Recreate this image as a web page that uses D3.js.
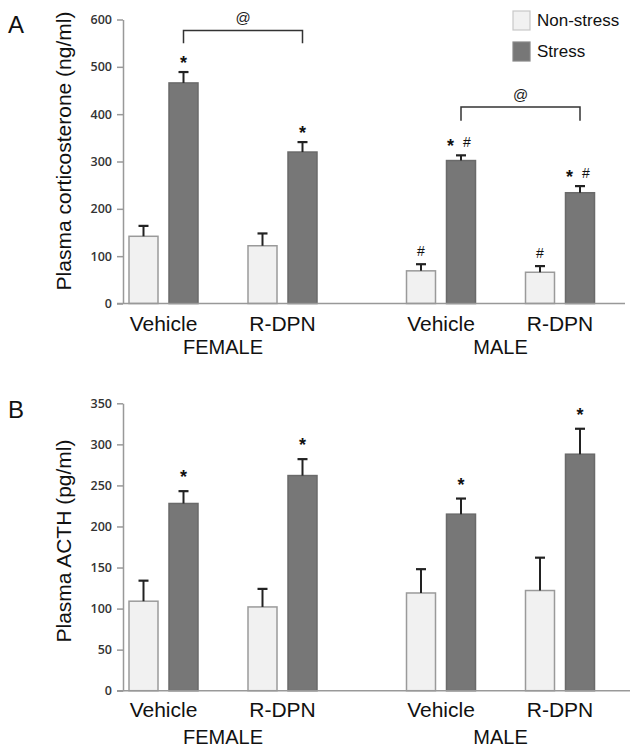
<!DOCTYPE html>
<html><head><meta charset="utf-8">
<script src="https://cdnjs.cloudflare.com/ajax/libs/d3/7.8.5/d3.min.js"></script>
<style>
body{margin:0;background:#fff;}
svg{display:block;}
.tick text{font-family:"Open Sans",sans-serif;font-weight:600;font-size:12.5px;fill:#333;}
</style></head>
<body><svg id="c" width="636" height="750"></svg>
<script>
const sexes = ["FEMALE", "MALE"];
const treatments = ["Vehicle", "R-DPN"];
const series = ["Non-stress", "Stress"];

// Panel A: plasma corticosterone (ng/ml), order FV, FR, MV, MR
const corticoNonStress = [142, 122, 69, 66];
const corticoNonStressSem = [22, 26, 14, 13];
const corticoStress = [466, 320, 302, 234];
const corticoStressSem = [23, 21, 11, 14];
const corticoNonStressMarks = ["", "", "#", "#"];
const corticoStressMarks = ["*", "*", "* #", "* #"];
const corticoTicks = [0, 100, 200, 300, 400, 500, 600];

// Panel B: plasma ACTH (pg/ml)
const acthNonStress = [109, 102, 119, 122];
const acthNonStressSem = [25, 22, 29, 40];
const acthStress = [228, 262, 215, 288];
const acthStressSem = [15, 20, 19, 31];
const acthNonStressMarks = ["", "", "", ""];
const acthStressMarks = ["*", "*", "*", "*"];
const acthTicks = [0, 50, 100, 150, 200, 250, 300, 350];

const colors = {"Non-stress": "#f1f1f1", "Stress": "#777777"};
const strokes = {"Non-stress": "#9a9a9a", "Stress": "#6a6a6a"};

const svg = d3.select("#c");
const axisX = 123;
const x0 = d3.scalePoint().domain(sexes).range([223, 500.5]);
const x1 = d3.scalePoint().domain(treatments).range([-59.5, 59.5]);
const x2 = d3.scaleBand().domain(series).range([-34.5, 34.5]).paddingInner(0.275);

function groups() {
  const g = [];
  sexes.forEach(s => treatments.forEach(t => g.push({sex: s, trt: t})));
  return g;
}
function cx(d, ser) { return x0(d.sex) + x1(d.trt) + x2(ser) + x2.bandwidth() / 2; }

function panel(opt) {
  const y = d3.scaleLinear().domain([0, opt.max]).range([opt.y0, opt.y1]);
  const g = svg.append("g");
  const gr = groups();
  const seriesData = [
    {name: "Non-stress", v: opt.ns, e: opt.nsSem, m: opt.nsMarks},
    {name: "Stress", v: opt.st, e: opt.stSem, m: opt.stMarks}
  ];
  seriesData.forEach(sd => {
    gr.forEach((d, i) => {
      const xl = x0(d.sex) + x1(d.trt) + x2(sd.name);
      g.append("rect").attr("x", xl).attr("y", y(sd.v[i]))
        .attr("width", x2.bandwidth()).attr("height", y(0) - y(sd.v[i]))
        .attr("fill", colors[sd.name]).attr("stroke", strokes[sd.name]).attr("stroke-width", 1.5);
      const c = cx(d, sd.name);
      const top = y(sd.v[i] + sd.e[i]);
      g.append("line").attr("x1", c).attr("x2", c).attr("y1", y(sd.v[i])).attr("y2", top)
        .attr("stroke", "#222").attr("stroke-width", 2);
      g.append("line").attr("x1", c - 5).attr("x2", c + 5).attr("y1", top).attr("y2", top)
        .attr("stroke", "#222").attr("stroke-width", 2.2);
      const mk = sd.m[i];
      if (mk) {
        const parts = mk.split(" ");
        parts.forEach(p => {
          let dx = 0;
          if (parts.length > 1) dx = p === "*" ? -10.5 : 6;
          if (p === "*") {
            g.append("text").attr("x", c + dx).attr("y", top - opt.starGap)
              .attr("text-anchor", "middle").attr("font-family", "Liberation Sans, Arial, sans-serif")
              .attr("font-weight", "bold").attr("font-size", 18).attr("fill", "#111").text("*");
          } else {
            g.append("text").attr("x", c + dx).attr("y", top - opt.hashGap)
              .attr("text-anchor", "middle").attr("font-family", "Liberation Sans, Arial, sans-serif")
              .attr("font-size", 14).attr("fill", "#111").text("#");
          }
        });
      }
    });
  });
  const ax = g.append("g").attr("transform", `translate(${axisX},0)`)
    .call(d3.axisLeft(y).tickValues(opt.ticks).tickSize(6).tickSizeOuter(0).tickPadding(5));
  ax.select(".domain").attr("stroke", "#999").attr("stroke-width", 1.5);
  ax.selectAll(".tick line").attr("stroke", "#999").attr("stroke-width", 1.5);
  g.append("line").attr("x1", axisX - 6).attr("x2", opt.xEnd).attr("y1", y(0)).attr("y2", y(0))
    .attr("stroke", "#999").attr("stroke-width", 1.5);
  gr.forEach(d => {
    g.append("text").attr("x", x0(d.sex) + x1(d.trt)).attr("y", opt.catY)
      .attr("text-anchor", "middle").attr("font-family", "Liberation Sans, Arial, sans-serif")
      .attr("font-size", 21).attr("fill", "#111").text(d.trt);
  });
  sexes.forEach(s => {
    g.append("text").attr("x", x0(s)).attr("y", opt.sexY)
      .attr("text-anchor", "middle").attr("font-family", "Liberation Sans, Arial, sans-serif")
      .attr("font-size", 20).attr("fill", "#111").text(s);
  });
  g.append("text").attr("transform", `translate(71,${opt.labY}) rotate(-90)`)
    .attr("text-anchor", "middle").attr("font-family", "Liberation Sans, Arial, sans-serif")
    .attr("font-size", 21).attr("fill", "#111").text(opt.label);
  g.append("text").attr("x", 8).attr("y", opt.letterY)
    .attr("font-family", "Liberation Sans, Arial, sans-serif")
    .attr("font-size", 24).attr("fill", "#111").text(opt.letter);
  return y;
}

const yA = panel({max: 600, y0: 303.5, y1: 19.5, ticks: corticoTicks,
  ns: corticoNonStress, nsSem: corticoNonStressSem, st: corticoStress, stSem: corticoStressSem,
  nsMarks: corticoNonStressMarks, stMarks: corticoStressMarks,
  starGap: 3, hashGap: 8, xEnd: 625, catY: 331, sexY: 354, labY: 151,
  label: "Plasma corticosterone (ng/ml)", letter: "A", letterY: 33});

panel({max: 350, y0: 690.7, y1: 403.3, ticks: acthTicks,
  ns: acthNonStress, nsSem: acthNonStressSem, st: acthStress, stSem: acthStressSem,
  nsMarks: acthNonStressMarks, stMarks: acthStressMarks,
  starGap: 8, hashGap: 8, xEnd: 630, catY: 717, sexY: 744, labY: 541,
  label: "Plasma ACTH (pg/ml)", letter: "B", letterY: 418});

// significance brackets (panel A), levels in data units
const brackets = [
  {sex: "FEMALE", level: 577, drop: 550},
  {sex: "MALE", level: 415, drop: 386}
];
brackets.forEach(b => {
  const xa = cx({sex: b.sex, trt: treatments[0]}, "Stress");
  const xb = cx({sex: b.sex, trt: treatments[1]}, "Stress");
  svg.append("path")
    .attr("d", `M${xa},${yA(b.drop)}V${yA(b.level)}H${xb}V${yA(b.drop)}`)
    .attr("fill", "none").attr("stroke", "#333").attr("stroke-width", 1.5);
  svg.append("text").attr("x", (xa + xb) / 2).attr("y", yA(b.level) - 7)
    .attr("text-anchor", "middle").attr("font-family", "Liberation Sans, Arial, sans-serif")
    .attr("font-size", 15).attr("fill", "#222").text("@");
});

// legend
const leg = svg.append("g");
series.forEach((s, i) => {
  leg.append("rect").attr("x", 513).attr("y", 11 + i * 31).attr("width", 17).attr("height", 19)
    .attr("fill", colors[s]).attr("stroke", s === "Stress" ? "#888" : "#c8c8c8").attr("stroke-width", 1.2);
  leg.append("text").attr("x", 537).attr("y", 26 + i * 31)
    .attr("font-family", "Liberation Sans, Arial, sans-serif").attr("font-size", 17)
    .attr("fill", "#111").text(s);
});
</script></body></html>
